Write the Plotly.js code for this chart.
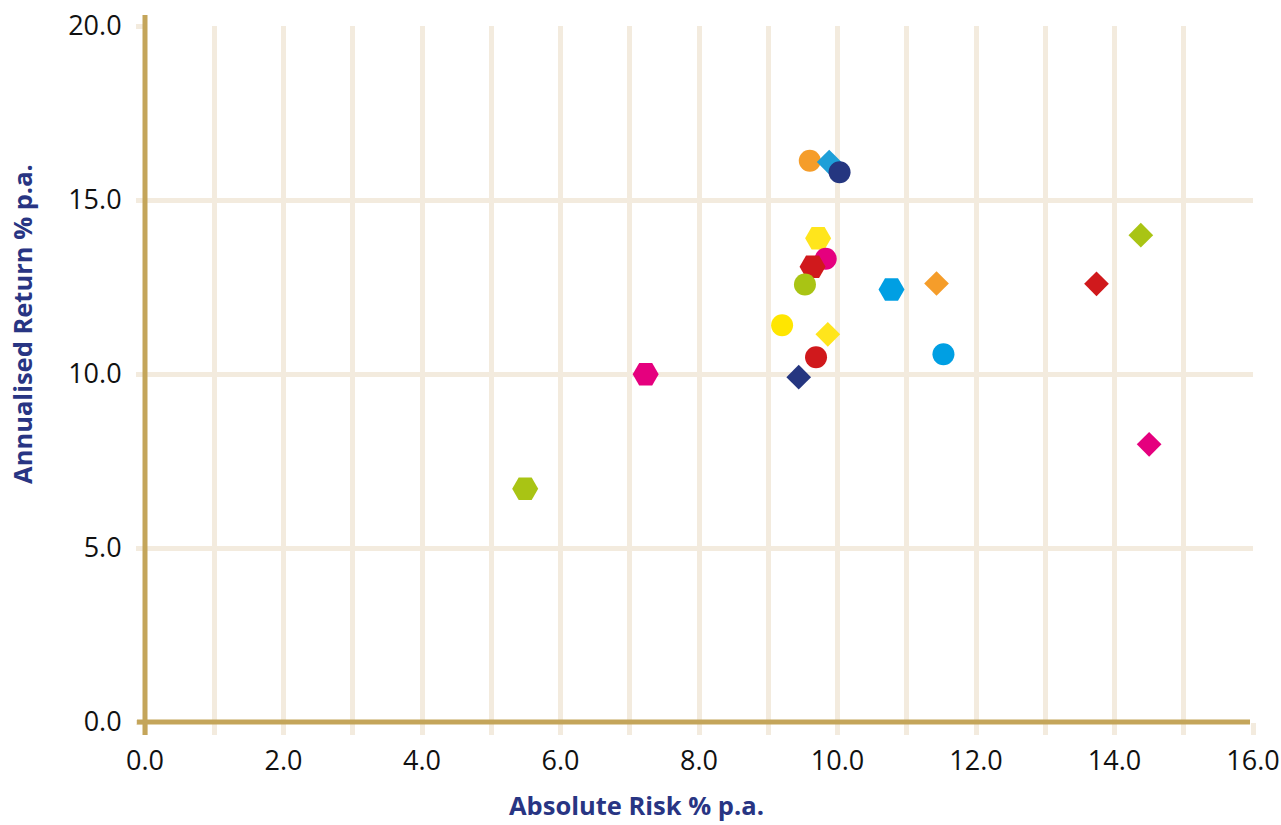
<!DOCTYPE html>
<html>
<head>
<meta charset="utf-8">
<script src="https://cdn.plot.ly/plotly-3.0.1.min.js"></script>
<style>html,body{margin:0;padding:0;background:#fff;}#chart{width:1281px;height:825px;}</style>
</head>
<body>
<div id="chart"></div>
<script>
// Data (draw order matters for overlaps)
var riskValues   = [9.60, 9.88, 10.03, 9.72, 9.83, 9.64, 9.53, 10.78, 11.43, 9.20, 9.86, 9.69, 11.53, 9.44, 7.23, 5.49, 14.38, 13.74, 14.50];
var returnValues = [16.13, 16.09, 15.80, 13.90, 13.31, 13.08, 12.57, 12.43, 12.60, 11.40, 11.14, 10.48, 10.57, 9.91, 9.99, 6.70, 13.99, 12.59, 7.98];
var markerColors = ['#f59d2a', '#1e9fd8', '#253680', '#ffe51c', '#e5007e', '#d0191c', '#a9c414', '#009fe3', '#f59d2a', '#ffe600', '#ffe51c', '#d0191c', '#009fe3', '#253680', '#e5007e', '#a9c414', '#a9c414', '#d0191c', '#e5007e'];
var markerShapes = ['circle', 'diamond', 'circle', 'hexagon2', 'circle', 'hexagon2', 'circle', 'hexagon2', 'diamond', 'circle', 'diamond', 'circle', 'circle', 'diamond', 'hexagon2', 'hexagon2', 'diamond', 'diamond', 'diamond'];
var xTickValues = [0, 2, 4, 6, 8, 10, 12, 14, 16];
var yTickValues = [0, 5, 10, 15, 20];
var xTitle = 'Absolute Risk % p.a.';
var yTitle = 'Annualised Return % p.a.';

var sizeFor = {circle: 22, diamond: 19, hexagon2: 26};
var markerSizes = markerShapes.map(function (s) { return sizeFor[s]; });

var gridColor = '#f3ebde';
var axisColor = '#c4a55a';
var titleColor = '#283583';

var trace = {
  type: 'scatter',
  mode: 'markers',
  x: riskValues,
  y: returnValues,
  marker: {color: markerColors, symbol: markerShapes, size: markerSizes, line: {width: 0}, opacity: 1},
  hoverinfo: 'x+y',
  showlegend: false,
  cliponaxis: false
};

var tickFont = {family: 'Open Sans, sans-serif', size: 27, color: '#111111'};

var layout = {
  width: 1281, height: 825,
  margin: {l: 145, r: 28, t: 26, b: 103},
  paper_bgcolor: '#ffffff', plot_bgcolor: '#ffffff',
  showlegend: false,
  xaxis: {
    range: [0, 16], tickvals: xTickValues, tickformat: '.1f',
    showgrid: true, gridcolor: gridColor, gridwidth: 5,
    zeroline: false, showline: false,
    ticks: 'outside', ticklen: 12, tickwidth: 5, tickcolor: gridColor,
    tickfont: tickFont, ticklabelstandoff: 3,
    minor: {dtick: 1, showgrid: true, gridcolor: gridColor, gridwidth: 5, ticks: 'outside', ticklen: 12, tickwidth: 5, tickcolor: gridColor},
    fixedrange: true
  },
  yaxis: {
    range: [0, 20], tickvals: yTickValues, tickformat: '.1f',
    showgrid: true, gridcolor: gridColor, gridwidth: 5,
    zeroline: false, showline: false,
    ticks: 'outside', ticklen: 8, tickwidth: 5, tickcolor: gridColor,
    tickfont: tickFont, ticklabelstandoff: 9,
    fixedrange: true
  },
  shapes: [
    {type: 'line', xref: 'paper', yref: 'paper', x0: 0, x1: 0, y0: -0.0187, y1: 1.0158, line: {color: axisColor, width: 5}, layer: 'above'},
    {type: 'line', xref: 'paper', yref: 'paper', x0: -0.0072, x1: 0.9973, y0: 0, y1: 0, line: {color: axisColor, width: 5}, layer: 'above'}
  ],
  annotations: [
    {text: '<b>' + xTitle + '</b>', xref: 'paper', yref: 'paper', x: 0.4436, y: -0.1193, xanchor: 'center', yanchor: 'middle', showarrow: false, font: {family: 'Open Sans, sans-serif', size: 25.5, color: titleColor}},
    {text: '<b>' + yTitle + '</b>', xref: 'paper', yref: 'paper', x: -0.111, y: 0.572, xanchor: 'center', yanchor: 'middle', textangle: -90, showarrow: false, font: {family: 'Open Sans, sans-serif', size: 25.5, color: titleColor}}
  ]
};

Plotly.newPlot('chart', [trace], layout, {displayModeBar: false, staticPlot: true});
</script>
</body>
</html>
